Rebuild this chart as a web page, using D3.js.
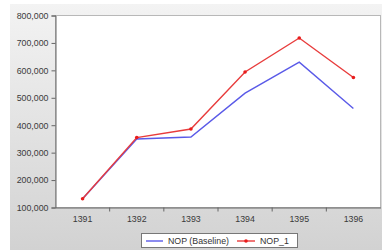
<!DOCTYPE html>
<html><head><meta charset="utf-8">
<script src="https://cdn.jsdelivr.net/npm/d3@7"></script>
<style>html,body{margin:0;padding:0;background:#fff;}svg{display:block;}</style>
</head><body>
<script>
const years = ["1391","1392","1393","1394","1395","1396"];
const baseline = [132000, 350000, 357000, 517000, 630000, 461000];
const nop1 = [132000, 355000, 386000, 594000, 718000, 574000];
const yTicks = [100000,200000,300000,400000,500000,600000,700000,800000];
const seriesNames = ["NOP (Baseline)", "NOP_1"];

const W = 382, H = 250;
const svg = d3.select("body").append("svg").attr("width", W).attr("height", H);
const defs = svg.append("defs");
const grad = defs.append("linearGradient").attr("id","bg").attr("x1",0).attr("y1",0).attr("x2",0).attr("y2",1);
grad.append("stop").attr("offset","0%").attr("stop-color","#f3f3f3");
grad.append("stop").attr("offset","100%").attr("stop-color","#d2d2d2");

svg.append("rect").attr("x",10).attr("y",4).attr("width",W-10).attr("height",H-4).attr("fill","url(#bg)");

const plot = {l:55.5, r:380.5, t:15.5, b:207.5};
const x = d3.scaleBand().domain(years).range([plot.l, plot.r]);
const y = d3.scaleLinear().domain([100000, 800000]).range([plot.b, plot.t]);

svg.append("rect").attr("x",plot.l).attr("y",plot.t).attr("width",plot.r-plot.l).attr("height",plot.b-plot.t)
  .attr("fill","#fff").attr("stroke","#b8b8b8").attr("stroke-width",1);

const font = "'Liberation Sans', Arial, sans-serif";
const fs = 8.8;
// Y axis
const yAxis = svg.append("g").attr("transform",`translate(${plot.l},0)`)
  .call(d3.axisLeft(y).tickValues(yTicks).tickFormat(d3.format(",")).tickSize(4).tickPadding(3));
yAxis.select(".domain").attr("stroke","#666");
yAxis.selectAll(".tick line").attr("stroke","#666");
yAxis.selectAll("text").attr("font-family",font).attr("font-size",fs).attr("fill","#3a3a3a");

// X axis: labels centered, ticks at band boundaries
const xAxis = svg.append("g").attr("transform",`translate(0,${plot.b})`)
  .call(d3.axisBottom(x).tickSize(0).tickPadding(8));
xAxis.select(".domain").attr("stroke","#666");
xAxis.selectAll("text").attr("font-family",font).attr("font-size",fs).attr("fill","#3a3a3a");
xAxis.selectAll(".bnd").data(years.slice(1)).enter().append("line").attr("class","bnd")
  .attr("x1",d=>x(d)).attr("x2",d=>x(d)).attr("y1",0).attr("y2",4).attr("stroke","#666");

const cx = d => x(d) + x.bandwidth()/2;
const line = d3.line().x((d,i)=>cx(years[i])).y(d=>y(d));

svg.append("path").datum(baseline).attr("d",line).attr("fill","none").attr("stroke","#5a5ae8").attr("stroke-width",1.4);
svg.append("path").datum(nop1).attr("d",line).attr("fill","none").attr("stroke","#e83c3c").attr("stroke-width",1.4);
svg.selectAll(".pt").data(nop1).enter().append("circle").attr("class","pt")
  .attr("cx",(d,i)=>cx(years[i])).attr("cy",d=>y(d)).attr("r",1.8).attr("fill","#e81c1c");

// Legend
const lg = svg.append("g");
lg.append("rect").attr("x",141.5).attr("y",233.5).attr("width",156).attr("height",14)
  .attr("fill","#fff").attr("stroke","#777").attr("stroke-width",1);
lg.append("line").attr("x1",146).attr("x2",163).attr("y1",241).attr("y2",241).attr("stroke","#5a5ae8").attr("stroke-width",1.4);
lg.append("text").attr("x",168).attr("y",244).attr("font-family",font).attr("font-size",fs).attr("fill","#333").text(seriesNames[0]);
lg.append("line").attr("x1",237).attr("x2",255).attr("y1",241).attr("y2",241).attr("stroke","#e83c3c").attr("stroke-width",1.4);
lg.append("circle").attr("cx",246).attr("cy",241).attr("r",1.8).attr("fill","#e81c1c");
lg.append("text").attr("x",260).attr("y",244).attr("font-family",font).attr("font-size",fs).attr("fill","#333").text(seriesNames[1]);
</script>
</body></html>
